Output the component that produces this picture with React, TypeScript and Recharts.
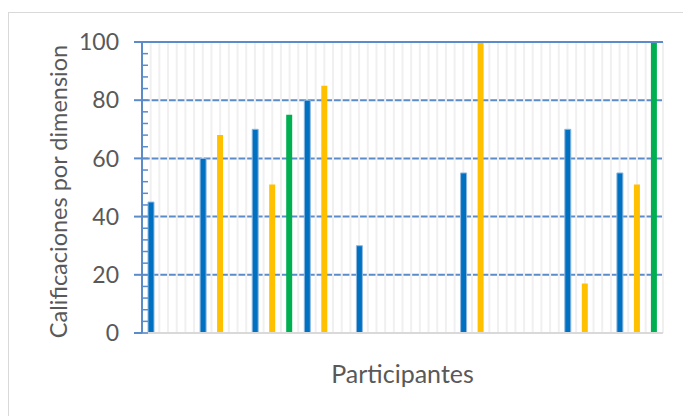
import { BarChart, Bar, XAxis, YAxis, CartesianGrid, ReferenceLine } from "recharts";

const participants = ["1", "2", "3", "4", "5", "6", "7", "8", "9", "10"];
const dimensionBlue = [45, 60, 70, 80, 30, null, 55, null, 70, 55];
const dimensionYellow = [null, 68, 51, 85, null, null, 100, null, 17, 51];
const dimensionGreen = [null, null, 75, null, null, null, null, null, null, 100];
const majorTicks = [0, 20, 40, 60, 80, 100];
const minorTicks = [0, 4, 8, 12, 16, 20, 24, 28, 32, 36, 40, 44, 48, 52, 56, 60, 64, 68, 72, 76, 80, 84, 88, 92, 96, 100];

const data = participants.map((p, i) => ({
  participante: p,
  azul: dimensionBlue[i],
  amarillo: dimensionYellow[i],
  verde: dimensionGreen[i],
}));

const FONT = "Lato, 'Open Sans', sans-serif";
const TEXT = "#595959";
const AXIS_BLUE = "#5b8bc9";
const GRID_COLUMNS = 60;
const TICK_SIZE = 8;
const TICK_MARGIN = 15;

// major ticks: label + outer tick; every tick: short inner tick
const YTick = ({ x, y, payload }: any) => {
  const axisX = x + TICK_SIZE + TICK_MARGIN;
  const major = majorTicks.includes(payload.value);
  return (
    <g>
      {major && <line x1={axisX - TICK_SIZE} x2={axisX} y1={y} y2={y} stroke={AXIS_BLUE} strokeWidth={2} />}
      {major && (
        <text x={x} y={y} dy="0.355em" textAnchor="end" fill={TEXT} fontSize={23} fontFamily={FONT}>
          {payload.value}
        </text>
      )}
      <line x1={axisX} x2={axisX + 6} y1={y} y2={y} stroke={AXIS_BLUE} strokeWidth={1.5} />
    </g>
  );
};

const YTitle = ({ viewBox }: any) => {
  const cx = viewBox.x + 58;
  const cy = viewBox.y + viewBox.height / 2 + 4;
  return (
    <text x={cx} y={cy} transform={`rotate(-90 ${cx} ${cy})`} textAnchor="middle" fill={TEXT} fontSize={23.5} fontFamily={FONT}>
      Calificaciones por dimension
    </text>
  );
};

const XTitle = ({ viewBox }: any) => (
  <text x={viewBox.x + viewBox.width / 2} y={viewBox.y + 50} textAnchor="middle" fill={TEXT} fontSize={25} fontFamily={FONT}>
    Participantes
  </text>
);

export default function App() {
  return (
    <div
      style={{
        position: "absolute",
        left: 8,
        top: 12,
        width: 675,
        height: 404,
        boxSizing: "border-box",
        borderTop: "1px solid #d9d9d9",
        borderLeft: "1px solid #d9d9d9",
        background: "#fff",
      }}
    >
      <BarChart width={674} height={403} data={data} margin={{ top: 29, right: 20, left: 0, bottom: 0 }} barSize={6} barGap={11}>
        <CartesianGrid vertical={false} horizontalValues={majorTicks} stroke={AXIS_BLUE} strokeWidth={2} />
        <CartesianGrid
          horizontal={false}
          stroke="#f0f0f0"
          strokeWidth={2}
          verticalCoordinatesGenerator={({ offset }: any) =>
            Array.from({ length: GRID_COLUMNS }, (_, k) => offset.left + ((k + 1) * offset.width) / GRID_COLUMNS)
          }
        />
        <ReferenceLine y={100} stroke={AXIS_BLUE} strokeWidth={2} />
        <XAxis dataKey="participante" height={83} tick={false} tickLine={false} axisLine={{ stroke: "#d9d9d9", strokeWidth: 2 }} label={<XTitle />} />
        <YAxis
          domain={[0, 100]}
          ticks={minorTicks}
          interval={0}
          width={133}
          tickSize={TICK_SIZE}
          tickMargin={TICK_MARGIN}
          axisLine={{ stroke: AXIS_BLUE, strokeWidth: 2 }}
          tickLine={{ stroke: "transparent" }}
          tick={<YTick />}
          label={<YTitle />}
        />
        <Bar dataKey="azul" fill="#0070c0" stroke="#8fb8e0" strokeWidth={1} isAnimationActive={false} />
        <Bar dataKey="amarillo" fill="#ffc000" isAnimationActive={false} />
        <Bar dataKey="verde" fill="#00b050" isAnimationActive={false} />
      </BarChart>
    </div>
  );
}
